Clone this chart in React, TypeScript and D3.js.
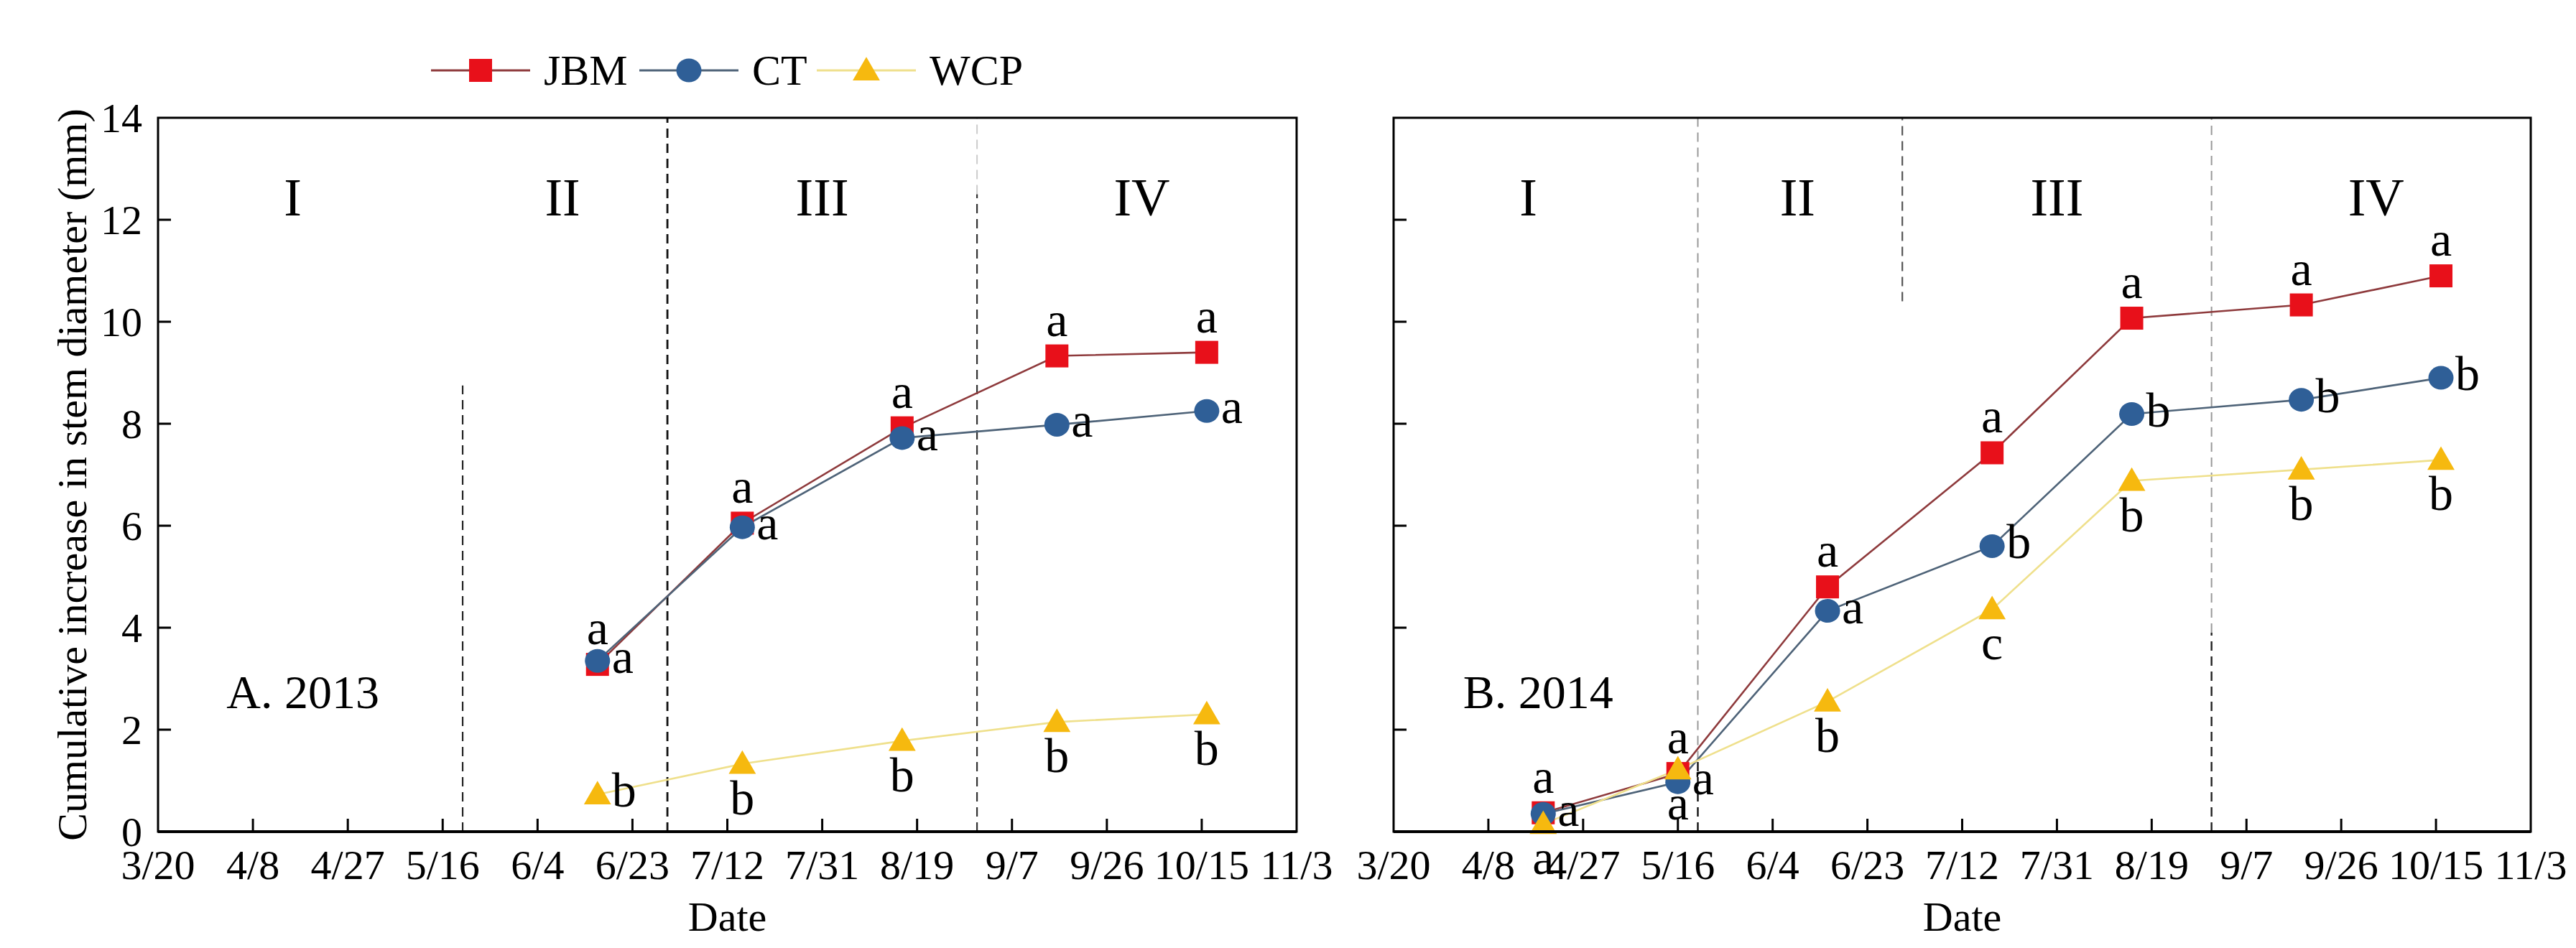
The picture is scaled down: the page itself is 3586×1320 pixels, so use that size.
import { useEffect, useRef } from "react"
import * as d3 from "d3"

// ---- data ----
const seriesNames = ["JBM", "CT", "WCP"]
const tickLabels = ["3/20", "4/8", "4/27", "5/16", "6/4", "6/23", "7/12", "7/31", "8/19", "9/7", "9/26", "10/15", "11/3"]
const yTicks = [0, 2, 4, 6, 8, 10, 12, 14]
const phaseNames = ["I", "II", "III", "IV"]
const phaseLabelDates = ["4/16", "6/9", "7/31", "10/3"]

const dates2013 = ["6/16", "7/15", "8/16", "9/16", "10/16"]
const jbm2013 = [3.28, 6.05, 7.92, 9.33, 9.4]
const ct2013 = [3.35, 5.97, 7.72, 7.98, 8.25]
const wcp2013 = [0.73, 1.33, 1.78, 2.15, 2.3]
const jbmLetters2013 = ["a", "a", "a", "a", "a"]
const ctLetters2013 = ["a", "a", "a", "a", "a"]
const wcpLetters2013 = ["b", "b", "b", "b", "b"]
const wcpPlace2013 = ["right", "below", "below", "below", "below"]
const phaseLines2013 = ["5/20", "6/30", "8/31"]

const dates2014 = ["4/19", "5/16", "6/15", "7/18", "8/15", "9/18", "10/16"]
const jbm2014 = [0.37, 1.14, 4.8, 7.43, 10.07, 10.33, 10.9]
const ct2014 = [0.35, 0.97, 4.33, 5.6, 8.19, 8.47, 8.9]
const wcp2014 = [0.15, 1.22, 2.55, 4.36, 6.88, 7.1, 7.29]
const jbmLetters2014 = ["a", "a", "a", "a", "a", "a", "a"]
const ctLetters2014 = ["a", "a", "a", "b", "b", "b", "b"]
const wcpLetters2014 = ["a", "a", "b", "c", "b", "b", "b"]
const wcpPlace2014 = ["below", "below", "below", "below", "below", "below", "below"]
const phaseLines2014 = ["5/20", "6/30", "8/31"]

const markerColor: any = { JBM: "#e8101a", CT: "#2f5f97", WCP: "#f6b90f" }
const lineColor: any = { JBM: "#8e3a3c", CT: "#4e6378", WCP: "#efe08c" }
const FONT = "'Liberation Serif', 'Times New Roman', serif"

const md = (s: string, year: number) => {
  const [m, d] = s.split("/").map(Number)
  return new Date(year, m - 1, d)
}

function drawMarker(g: any, name: string, cx: number, cy: number) {
  if (name === "JBM") {
    g.append("rect").attr("x", cx - 16).attr("y", cy - 16).attr("width", 32).attr("height", 32)
      .attr("fill", markerColor.JBM)
  } else if (name === "CT") {
    g.append("ellipse").attr("cx", cx).attr("cy", cy).attr("rx", 17.5).attr("ry", 16.5)
      .attr("fill", markerColor.CT)
  } else {
    g.append("path")
      .attr("d", d3.symbol(d3.symbolTriangle, 620)())
      .attr("transform", `translate(${cx},${cy + 3})`)
      .attr("fill", markerColor.WCP)
  }
}

function drawPanel(svg: any, p: any) {
  const year = p.year
  const x = d3.scaleTime()
    .domain([md(tickLabels[0], year), md(tickLabels[tickLabels.length - 1], year)])
    .range([p.left, p.right])
  const y = d3.scaleLinear().domain([0, 14]).range([1158, 164])
  const g = svg.append("g")

  // phase boundaries
  p.phaseLines.forEach((s: string, i: number) => {
    const st = p.phaseStyles[i]
    st.forEach((seg: any) => {
      g.append("line")
        .attr("x1", x(md(s, year))).attr("x2", x(md(s, year)))
        .attr("y1", y(seg.from)).attr("y2", y(seg.to))
        .attr("stroke", seg.color).attr("stroke-width", seg.w)
        .attr("stroke-dasharray", "13,8")
    })
  })

  // phase names
  phaseNames.forEach((n, i) => {
    g.append("text").attr("x", x(md(phaseLabelDates[i], year))).attr("y", y(12.08))
      .attr("text-anchor", "middle").attr("font-family", FONT).attr("font-size", 74)
      .text(n)
  })

  // panel title
  g.append("text").attr("x", x(md("4/18", year))).attr("y", y(2.42))
    .attr("text-anchor", "middle").attr("font-family", FONT).attr("font-size", 66)
    .text(p.title)

  // lines
  const values = [p.jbm, p.ct, p.wcp]
  seriesNames.forEach((name, si) => {
    const line = d3.line<number>()
      .x((_, i) => x(md(p.dates[i], year)))
      .y((v) => y(v))
    g.append("path").datum(values[si])
      .attr("fill", "none").attr("stroke", lineColor[name]).attr("stroke-width", 2.6)
      .attr("d", line)
  })
  // markers
  seriesNames.forEach((name, si) => {
    values[si].forEach((v: number, i: number) => {
      drawMarker(g, name, x(md(p.dates[i], year)), y(v))
    })
  })
  // letters
  const letters = [p.jbmL, p.ctL, p.wcpL]
  seriesNames.forEach((name, si) => {
    values[si].forEach((v: number, i: number) => {
      const place = si === 0 ? "above" : si === 1 ? "right" : p.wcpPlace[i]
      const cx = x(md(p.dates[i], year))
      const cy = y(v)
      const t = g.append("text").attr("font-family", FONT).attr("font-size", 68).text(letters[si][i])
      if (place === "above") t.attr("x", cx).attr("y", cy - 28).attr("text-anchor", "middle")
      else if (place === "right") t.attr("x", cx + 20).attr("y", cy + 17)
      else t.attr("x", cx).attr("y", cy + 70).attr("text-anchor", "middle")
    })
  })

  // frame
  g.append("rect").attr("x", p.left).attr("y", y(14)).attr("width", p.right - p.left)
    .attr("height", y(0) - y(14)).attr("fill", "none").attr("stroke", "#000").attr("stroke-width", 3)
  g.append("line").attr("x1", p.left).attr("x2", p.right).attr("y1", y(0)).attr("y2", y(0))
    .attr("stroke", "#000").attr("stroke-width", 4)

  // x ticks
  tickLabels.forEach((t, i) => {
    const xx = x(md(t, year))
    if (i > 0 && i < tickLabels.length - 1) {
      g.append("line").attr("x1", xx).attr("x2", xx).attr("y1", y(0)).attr("y2", y(0) - 18)
        .attr("stroke", "#000").attr("stroke-width", 3)
    }
    g.append("text").attr("x", xx).attr("y", y(0) + 66).attr("text-anchor", "middle")
      .attr("font-family", FONT).attr("font-size", 58).text(t)
  })
  // y ticks
  yTicks.forEach((v) => {
    if (v > 0 && v < 14) {
      g.append("line").attr("x1", p.left).attr("x2", p.left + 18).attr("y1", y(v)).attr("y2", y(v))
        .attr("stroke", "#000").attr("stroke-width", 3)
    }
    if (p.yLabels) {
      g.append("text").attr("x", p.left - 22).attr("y", y(v) + 20).attr("text-anchor", "end")
        .attr("font-family", FONT).attr("font-size", 58).text(v)
    }
  })

  g.append("text").attr("x", (p.left + p.right) / 2).attr("y", 1296).attr("text-anchor", "middle")
    .attr("font-family", FONT).attr("font-size", 58).text("Date")

  if (p.yLabels) {
    g.append("text")
      .attr("transform", `translate(120,${(y(0) + y(14)) / 2}) rotate(-90)`)
      .attr("text-anchor", "middle").attr("font-family", FONT).attr("font-size", 58)
      .text("Cumulative increase in stem diameter (mm)")
  }
}

export default function App() {
  const svgRef = useRef<SVGSVGElement>(null)

  useEffect(() => {
    if (!svgRef.current) return
    const svg = d3.select(svgRef.current)
    svg.selectAll("*").remove()
    svg.append("rect").attr("width", 3586).attr("height", 1320).attr("fill", "#fff")

    drawPanel(svg, {
      year: 2013, left: 220, right: 1805, title: "A. 2013", yLabels: true,
      dates: dates2013, jbm: jbm2013, ct: ct2013, wcp: wcp2013,
      jbmL: jbmLetters2013, ctL: ctLetters2013, wcpL: wcpLetters2013, wcpPlace: wcpPlace2013,
      phaseLines: phaseLines2013,
      phaseStyles: [
        [{ from: 0, to: 8.75, color: "#222", w: 2.2 }],
        [{ from: 0, to: 14, color: "#111", w: 2.8 }],
        [{ from: 12.5, to: 14, color: "#ccc", w: 2 }, { from: 0, to: 12.5, color: "#333", w: 2.2 }],
      ],
    })
    drawPanel(svg, {
      year: 2014, left: 1940, right: 3523, title: "B. 2014", yLabels: false,
      dates: dates2014, jbm: jbm2014, ct: ct2014, wcp: wcp2014,
      jbmL: jbmLetters2014, ctL: ctLetters2014, wcpL: wcpLetters2014, wcpPlace: wcpPlace2014,
      phaseLines: phaseLines2014,
      phaseStyles: [
        [{ from: 1.4, to: 14, color: "#999", w: 2 }, { from: 0, to: 1.4, color: "#111", w: 2.4 }],
        [{ from: 10.4, to: 14, color: "#555", w: 2.2 }],
        [{ from: 3.9, to: 14, color: "#999", w: 2 }, { from: 0, to: 3.9, color: "#222", w: 2.4 }],
      ],
    })

    // legend
    const legendX = [600, 890, 1137]
    const lg = svg.append("g")
    seriesNames.forEach((name, i) => {
      const x0 = legendX[i]
      lg.append("line").attr("x1", x0).attr("x2", x0 + 138).attr("y1", 98).attr("y2", 98)
        .attr("stroke", lineColor[name]).attr("stroke-width", 3)
      drawMarker(lg, name, x0 + 69, 98)
      lg.append("text").attr("x", x0 + 157).attr("y", 118).attr("font-family", FONT)
        .attr("font-size", 60).text(name)
    })
  }, [])

  return (
    <svg
      ref={svgRef}
      width={3586}
      height={1320}
      style={{ position: "absolute", left: 0, top: 0, display: "block" }}
    />
  )
}
